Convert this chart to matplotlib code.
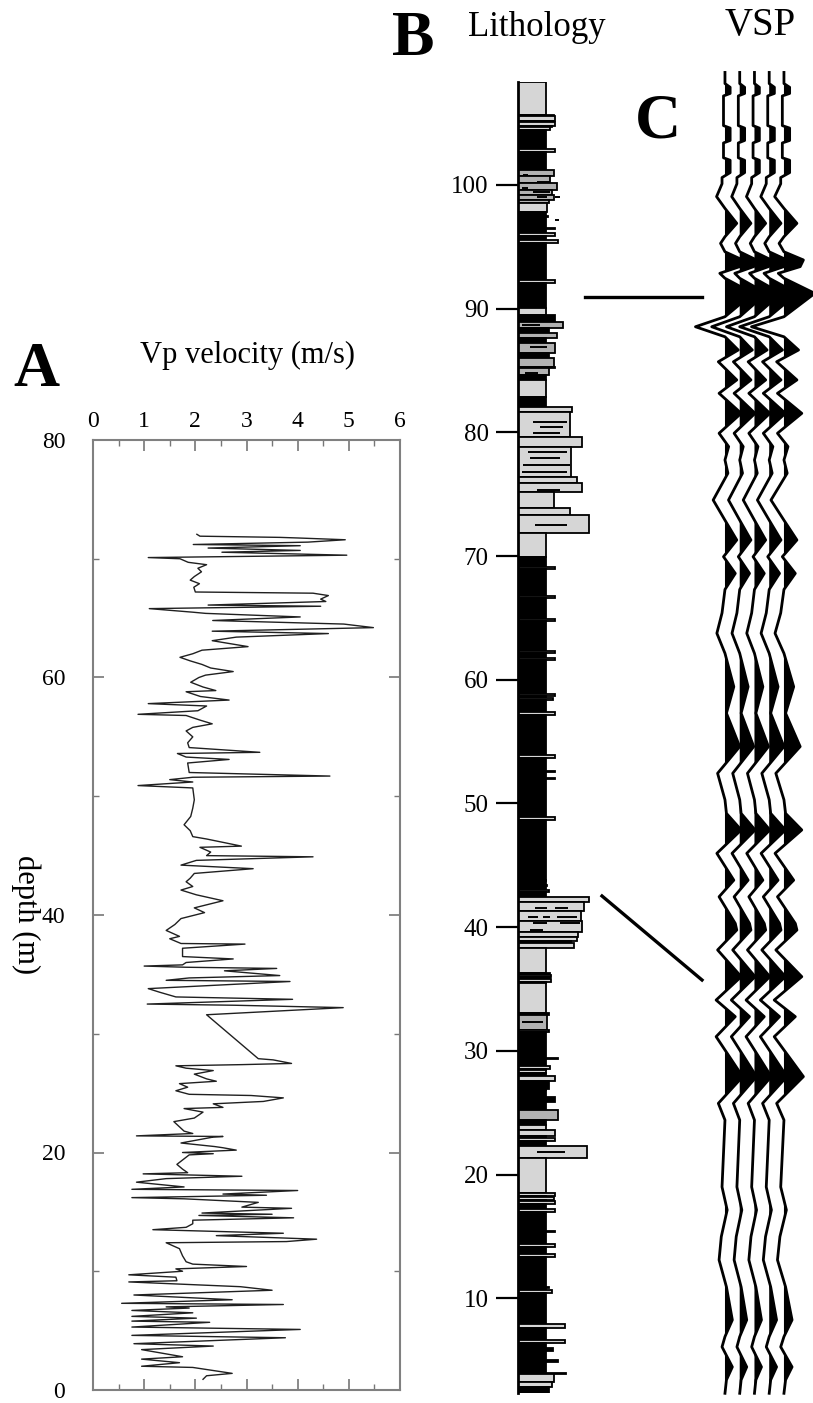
import numpy as np
import matplotlib.pyplot as plt
from matplotlib.lines import Line2D

plt.rcParams['font.family'] = ['Liberation Serif', 'DejaVu Serif']

# ---- A: Vp velocity log (depth m, velocity) read top to bottom
vp_depth = [72.06, 71.9, 71.8, 71.75, 71.6, 71.4, 71.2, 71.1, 70.9, 70.7, 70.55, 70.4, 70.3, 70.1, 70.0,
            69.7, 69.5, 69.2, 68.9, 68.5, 68.2, 67.9, 67.6, 67.2, 67.1, 66.9, 66.6, 66.4, 66.1, 66.0,
            65.8, 65.5, 65.4, 65.1, 64.8, 64.5, 64.2, 63.9, 63.7, 63.4, 63.1, 62.6, 62.3, 62.0, 61.7,
            61.4, 61.1, 60.8, 60.5, 60.2, 60.0, 59.6, 59.2, 58.9, 58.8, 58.4, 58.1, 57.8, 57.6, 57.2,
            56.9, 56.8, 56.4, 56.1, 55.8, 55.5, 55.0, 54.5, 54.1, 53.7, 53.6, 53.3, 53.1, 52.8, 52.0,
            51.7, 51.6, 51.4, 51.2, 50.9, 50.7, 49.7, 49.0, 48.3, 47.6, 47.1, 46.6, 46.4, 45.8, 45.7,
            45.3, 45.0, 44.9, 44.6, 44.2, 43.9, 43.5, 43.1, 42.8, 42.4, 42.1, 41.7, 41.2, 40.6, 40.2,
            39.7, 39.2, 38.7, 38.2, 38.0, 37.6, 37.55, 37.2, 36.5, 36.3, 36.0, 35.8, 35.7, 35.6, 35.5,
            35.3, 34.9, 34.7, 34.5, 34.4, 33.8, 33.5, 33.1, 32.9, 32.5, 32.4, 32.2, 31.6, 27.9, 27.8,
            27.5, 27.4, 27.3, 27.1, 26.9, 26.6, 26.2, 26.0, 25.8, 25.5, 25.2, 24.9, 24.8, 24.6, 24.3,
            24.1, 23.8, 23.7, 23.4, 22.9, 22.6, 21.8, 21.6, 21.4, 21.35, 21.3, 20.8, 20.5, 20.4, 20.2,
            20.0, 19.9, 19.8, 19.0, 18.6, 18.3, 18.2, 18.0, 17.8, 17.5, 17.1, 16.9, 16.8, 16.5, 16.4,
            16.2, 16.1, 15.8, 15.4, 15.3, 14.9, 14.8, 14.7, 14.5, 14.3, 14.0, 13.7, 13.5, 13.2, 13.0,
            12.7, 12.5, 12.4, 11.9, 11.3, 10.8, 10.6, 10.4, 10.2, 10.0, 9.7, 9.5, 9.2, 9.1, 8.7,
            8.4, 8.0, 7.6, 7.3, 7.2, 7.0, 6.9, 6.7, 6.5, 6.2, 6.05, 5.8, 5.7, 5.3, 5.1,
            4.6, 4.4, 3.9, 3.7, 3.4, 2.8, 2.6, 2.3, 2.0, 1.9, 1.4, 1.2, 0.9]
vp_vel = [2.03, 2.09, 3.65, 4.0, 4.93, 4.2, 1.96, 4.05, 2.25, 4.05, 2.52, 4.0, 4.96, 1.08, 1.7,
          1.86, 2.22, 2.05, 2.12, 1.98, 1.9, 2.08, 1.97, 2.0, 4.3, 4.6, 4.45, 4.55, 2.25, 4.45,
          1.1, 1.95, 2.2, 4.05, 2.34, 4.9, 5.48, 2.33, 4.6, 2.8, 2.33, 3.03, 2.13, 1.95, 1.7,
          1.9, 2.13, 2.3, 2.74, 2.2, 2.07, 1.91, 2.15, 2.4, 1.82, 2.1, 2.66, 1.08, 2.22, 2.05,
          0.88, 1.82, 2.1, 2.33, 1.95, 1.82, 1.95, 1.85, 1.88, 3.26, 1.65, 1.82, 2.66, 1.85, 1.88,
          4.63, 1.95, 1.5, 1.95, 0.88, 1.95, 1.98, 1.95, 1.91, 1.78, 1.9, 1.95, 2.22, 2.9, 2.09,
          2.3, 2.22, 4.3, 2.02, 1.72, 3.13, 1.98, 1.9, 1.82, 1.95, 1.72, 2.02, 2.54, 1.98, 2.18,
          1.72, 1.6, 1.43, 1.69, 1.5, 1.72, 2.97, 1.75, 1.75, 2.74, 1.82, 1.75, 1.0, 1.82, 3.59,
          2.57, 3.65, 1.88, 1.43, 3.85, 1.08, 1.3, 1.62, 3.9, 1.06, 2.77, 4.89, 2.22, 3.23, 3.52,
          3.88, 2.91, 1.62, 1.82, 2.35, 1.98, 2.22, 2.41, 1.69, 1.85, 1.62, 1.88, 3.09, 3.72, 3.33,
          2.35, 2.54, 1.78, 2.15, 1.98, 1.58, 1.78, 1.95, 0.85, 2.54, 2.35, 1.72, 2.38, 2.54, 2.8,
          1.75, 2.35, 1.88, 1.64, 1.75, 1.85, 0.98, 2.91, 1.43, 0.85, 1.78, 0.76, 4.0, 2.54, 3.39,
          0.76, 1.78, 3.23, 2.91, 3.88, 2.13, 3.5, 2.07, 3.92, 1.95, 1.95, 1.82, 1.17, 3.72, 2.41,
          4.37, 3.78, 1.43, 1.69, 1.75, 1.82, 1.95, 3.0, 1.62, 1.75, 0.7, 1.62, 1.64, 0.7, 2.88,
          3.5, 0.8, 2.72, 0.56, 3.72, 1.43, 1.88, 0.76, 1.95, 0.76, 2.02, 0.76, 2.28, 0.76, 4.05,
          0.76, 3.76, 0.8, 2.35, 0.95, 1.75, 0.95, 1.69, 0.95, 1.95, 2.72, 2.22, 2.15]

# ---- B: lithology column, beds listed by top depth; K black, L light grey, M mid grey
litho_top = [108.35, 105.66, 105.55, 105.2, 105.1, 104.8, 104.7, 104.45, 102.89, 102.65,
             101.21, 100.7, 100.2, 99.6, 99.2, 98.8, 98.52, 97.84, 97.5, 97.4,
             96.55, 96.45, 96.1, 95.85, 95.55, 95.3, 92.35, 92.05, 90.03, 89.49,
             88.95, 88.41, 88.0, 87.6, 87.2, 86.39, 85.99, 85.32, 85.18, 84.64,
             84.24, 82.89, 82.08, 81.67, 79.65, 78.84, 76.42, 75.88, 75.21, 73.86,
             73.32, 71.84, 69.95, 69.1, 68.92, 66.8, 66.62, 64.9, 64.75, 62.35,
             62.18, 61.75, 61.62, 58.85, 58.68, 58.55, 58.38, 57.38, 57.18, 53.9,
             53.65, 52.62, 52.52, 52.1, 52.0, 48.88, 48.7, 43.82, 43.7, 43.45,
             43.33, 43.0, 42.85, 42.47, 42.06, 41.3, 40.5, 39.6, 39.23, 38.9,
             38.75, 38.29, 36.27, 36.15, 35.95, 35.85, 35.6, 35.46, 33.04, 32.9,
             31.7, 31.55, 29.45, 29.35, 28.75, 28.55, 28.45, 28.2, 27.95, 27.6,
             26.9, 26.8, 26.3, 25.85, 25.2, 24.45, 24.0, 23.6, 23.1, 22.95,
             22.7, 22.31, 21.32, 18.5, 18.25, 18.15, 17.95, 17.85, 17.65, 17.2,
             16.95, 15.45, 15.35, 14.35, 14.15, 13.55, 13.3, 10.95, 10.8, 10.7,
             10.45, 7.9, 7.6, 6.65, 6.35, 5.95, 5.75, 5.0, 4.85, 3.95,
             3.85, 3.2, 2.8]
litho_kind = ['L', 'K', 'L', 'K', 'L', 'K', 'L', 'K', 'L', 'K',
              'M', 'M', 'M', 'M', 'M', 'M', 'L', 'K', 'L', 'K',
              'K', 'K', 'L', 'K', 'L', 'K', 'L', 'K', 'L', 'K',
              'M', 'K', 'M', 'K', 'M', 'K', 'M', 'K', 'M', 'K',
              'L', 'K', 'L', 'L', 'L', 'L', 'L', 'L', 'L', 'L',
              'L', 'L', 'K', 'L', 'K', 'L', 'K', 'L', 'K', 'L',
              'K', 'L', 'K', 'L', 'K', 'L', 'K', 'L', 'K', 'L',
              'K', 'L', 'K', 'L', 'K', 'L', 'K', 'L', 'K', 'L',
              'K', 'L', 'K', 'L', 'L', 'L', 'L', 'L', 'L', 'K',
              'L', 'L', 'K', 'L', 'K', 'L', 'K', 'L', 'K', 'M',
              'M', 'K', 'K', 'K', 'L', 'K', 'L', 'K', 'L', 'K',
              'L', 'K', 'K', 'K', 'M', 'K', 'L', 'L', 'K', 'L',
              'K', 'L', 'L', 'L', 'K', 'L', 'K', 'L', 'K', 'L',
              'K', 'L', 'K', 'L', 'K', 'L', 'K', 'L', 'K', 'L',
              'K', 'L', 'K', 'L', 'K', 'K', 'K', 'K', 'K', 'K',
              'L', 'L', 'K']
litho_width = [1.0, 1.3, 1.32, 1.3, 1.32, 1.2, 1.15, 1.0, 1.32, 1.0,
               1.3, 1.15, 1.38, 1.2, 1.3, 1.1, 1.05, 1.0, 1.08, 1.0,
               1.32, 1.0, 1.32, 1.0, 1.43, 1.0, 1.32, 1.0, 1.0, 1.32,
               1.62, 1.12, 1.4, 1.0, 1.32, 1.12, 1.3, 1.32, 1.12, 1.0,
               1.0, 1.0, 1.92, 1.86, 2.27, 1.9, 2.1, 2.27, 1.3, 1.85,
               2.55, 1.0, 1.0, 1.32, 1.0, 1.32, 1.0, 1.32, 1.0, 1.32,
               1.0, 1.32, 1.0, 1.32, 1.0, 1.25, 1.0, 1.32, 1.0, 1.32,
               1.0, 1.32, 1.0, 1.32, 1.0, 1.32, 1.0, 1.0, 1.0, 1.05,
               1.0, 1.1, 1.0, 2.55, 2.35, 2.25, 2.3, 2.15, 2.1, 1.9,
               2.0, 1.0, 1.15, 1.18, 1.15, 1.18, 1.0, 1.0, 1.1, 1.05,
               1.1, 1.0, 1.43, 1.0, 1.15, 1.0, 1.0, 1.0, 1.32, 1.1,
               1.0, 1.0, 1.32, 1.0, 1.43, 1.0, 1.0, 1.32, 1.0, 1.32,
               1.0, 2.45, 1.0, 1.32, 1.0, 1.28, 1.0, 1.32, 1.0, 1.32,
               1.0, 1.32, 1.0, 1.32, 1.0, 1.32, 1.0, 1.1, 1.0, 1.2,
               1.0, 1.68, 1.0, 1.68, 1.0, 1.25, 1.0, 1.43, 1.0, 1.7,
               1.3, 1.2, 1.1]
litho_base = 2.32
litho_colors = {'K': '#000000', 'L': '#d6d6d6', 'M': '#b2b2b2'}

# fracture marks inside the sandy beds (depth, from, to)
crack_depth = [100.81, 100.27, 99.73, 99.46, 99.05, 99.0, 97.17, 88.68, 86.93, 86.26,
               84.78, 80.87, 80.46, 79.93, 78.44, 77.9, 77.36, 76.82, 75.34, 72.51,
               41.53, 41.53, 40.85, 40.85, 40.85, 40.31, 40.31, 39.77, 32.36, 21.85]
crack_x0 = [0.17, 0.67, 0.13, 0.55, 0.67, 1.32, 1.32, 0.13, 0.43, 0.13,
            0.25, 0.55, 0.79, 0.55, 0.37, 0.43, 0.19, 0.13, 0.67, 0.61,
            0.61, 1.32, 0.37, 0.9, 1.38, 0.55, 1.5, 0.43, 0.13, 0.67]
crack_x1 = [0.37, 1.14, 0.37, 1.14, 1.02, 1.5, 1.48, 0.79, 1.02, 0.67,
            0.73, 1.74, 1.62, 1.5, 1.74, 1.5, 1.86, 1.74, 1.5, 1.74,
            1.02, 1.8, 0.73, 1.14, 2.1, 1.02, 2.21, 0.9, 0.9, 1.68]

# ---- C: VSP trace picks (depth, amplitude in trace spacings)
vsp_depth = [109.1, 108.2, 107.9, 107.4, 107.2, 104.8, 104.6, 103.6, 103.4, 102.2,
             102.0, 101.0, 100.6, 100.1, 99.06, 98.11, 96.9, 95.82, 95.28, 94.6,
             93.94, 93.4, 92.86, 92.46, 91.24, 89.35, 88.54, 87.73, 86.66, 85.71,
             84.24, 83.16, 81.54, 79.93, 78.85, 77.77, 76.7, 74.53, 72.9, 71.3,
             69.95, 68.6, 67.3, 65.4, 63.76, 62.14, 59.44, 57.3, 54.6, 52.44,
             50.3, 49.2, 47.86, 45.97, 43.8, 42.46, 40.3, 39.77, 38.16, 36.0,
             34.11, 32.77, 31.15, 27.92, 25.76, 24.41, 21.7, 19.0, 17.14, 14.98,
             13.1, 10.92, 8.25, 6.9, 6.07, 4.45, 3.4, 2.32]
vsp_amp = [0.0, 0.0, 0.35, 0.35, -0.1, -0.1, 0.35, 0.35, -0.1, -0.1,
           0.35, 0.35, -0.2, -0.2, -0.57, 0.0, 0.8, 0.0, -0.3, 0.0,
           1.2, 1.0, -0.35, 0.0, 1.9, 0.0, -2.0, 0.0, 0.9, -0.45,
           0.8, -0.4, 1.1, -0.4, 0.25, 0.0, 0.2, -0.8, 0.0, 0.8,
           -0.1, 0.7, 0.0, -0.2, -0.55, 0.0, 0.6, 0.1, 1.0, -0.5,
           0.0, 0.1, 1.1, -0.55, 0.6, -0.4, 0.7, 0.8, -0.5, 1.1,
           -0.6, 0.7, -0.6, 1.2, -0.45, 0.0, -0.1, -0.2, 0.15, -0.25,
           -0.4, 0.1, 0.5, 0.0, -0.2, 0.5, 0.1, 0.0]
trace_pos = [0, 1, 2, 3, 4]
trace_gain = [1.0, 0.95, 0.95, 1.0, 1.1]

W, H = 813, 1403
fig = plt.figure(figsize=(W / 100, H / 100), dpi=100, facecolor='white')


def fx(px):
    return px / W


def fy(py):
    return 1 - py / H


# ---------- panel A
ax_a = fig.add_axes([fx(93), fy(1390), 307 / W, 950 / H])
ax_a.plot(vp_vel, vp_depth, color='#202020', lw=1.0)
ax_a.set_xlim(0, 6)
ax_a.set_ylim(0, 80)
ax_a.set_xticks(range(7))
ax_a.set_xticks(np.arange(0.5, 6, 1), minor=True)
ax_a.set_yticks(range(0, 81, 20))
ax_a.set_yticks(range(10, 80, 20), minor=True)
ax_a.xaxis.set_ticks_position('both')
ax_a.yaxis.set_ticks_position('both')
ax_a.tick_params(axis='x', which='both', labeltop=True, labelbottom=False, direction='in', color='#777777')
ax_a.tick_params(axis='y', which='both', direction='in', color='#777777')
ax_a.tick_params(which='major', length=8, width=1.2, labelsize=17)
ax_a.tick_params(which='minor', length=4, width=1.0)
ax_a.tick_params(axis='x', pad=6)
ax_a.tick_params(axis='y', pad=20)
for sp in ax_a.spines.values():
    sp.set_color('#808080')
    sp.set_linewidth(1.5)

fig.text(fx(36), fy(371), 'A', fontsize=46, fontweight='bold', ha='center', va='center')
fig.text(fx(247), fy(355), 'Vp velocity (m/s)', fontsize=22, ha='center', va='center')
fig.text(fx(26), fy(915), 'depth (m)', fontsize=22, rotation=-90, ha='center', va='center')

# ---------- panel B
ax_b = fig.add_axes([fx(518), fy(1393.3), 84 / W, 1311.6 / H])
bottoms = litho_top[1:] + [litho_base]
heights = [t - b for t, b in zip(litho_top, bottoms)]
ax_b.barh(bottoms, litho_width, height=heights, left=0, align='edge',
          color=[litho_colors[k] for k in litho_kind], edgecolor='black', linewidth=1.3)
ax_b.hlines(crack_depth, crack_x0, crack_x1, color='black', lw=1.4)
ax_b.set_xlim(0, 3)
ax_b.set_ylim(litho_base, litho_top[0])
ax_b.set_xticks([])
ax_b.set_yticks(range(10, 101, 10))
ax_b.tick_params(axis='y', direction='out', length=16, width=1.6, pad=5, labelsize=18)
for s in ['top', 'right', 'bottom']:
    ax_b.spines[s].set_visible(False)
ax_b.spines['left'].set_linewidth(2)
ax_b.patch.set_alpha(0)

fig.text(fx(413), fy(40), 'B', fontsize=46, fontweight='bold', ha='center', va='center')
fig.text(fx(537), fy(27), 'Lithology', fontsize=25, ha='center', va='center')

# ---------- panel C
ax_c = fig.add_axes([fx(680), fy(1393.3), 133 / W, 1311.6 / H], sharey=ax_b)
amp = np.array(vsp_amp)
dep = np.array(vsp_depth)
for p, g in zip(trace_pos, trace_gain):
    xs = p + g * amp
    ax_c.fill_betweenx(dep, p, xs, where=amp > 0, interpolate=True, color='black', lw=0, clip_on=False)
    ax_c.plot(xs, dep, color='black', lw=2.0, clip_on=False)
ax_c.set_xlim(-3.05, 5.97)
ax_c.axis('off')

fig.text(fx(658), fy(122), 'C', fontsize=46, fontweight='bold', ha='center', va='center')
fig.text(fx(760), fy(26), 'VSP', fontsize=28, ha='center', va='center')

# connector lines between lithology and VSP
fig.add_artist(Line2D([fx(585), fx(702)], [fy(297), fy(297)], color='black', lw=2.4))
fig.add_artist(Line2D([fx(602), fx(702)], [fy(896), fy(980)], color='black', lw=2.4))

fig.savefig('out.png', dpi=100, facecolor='white')
